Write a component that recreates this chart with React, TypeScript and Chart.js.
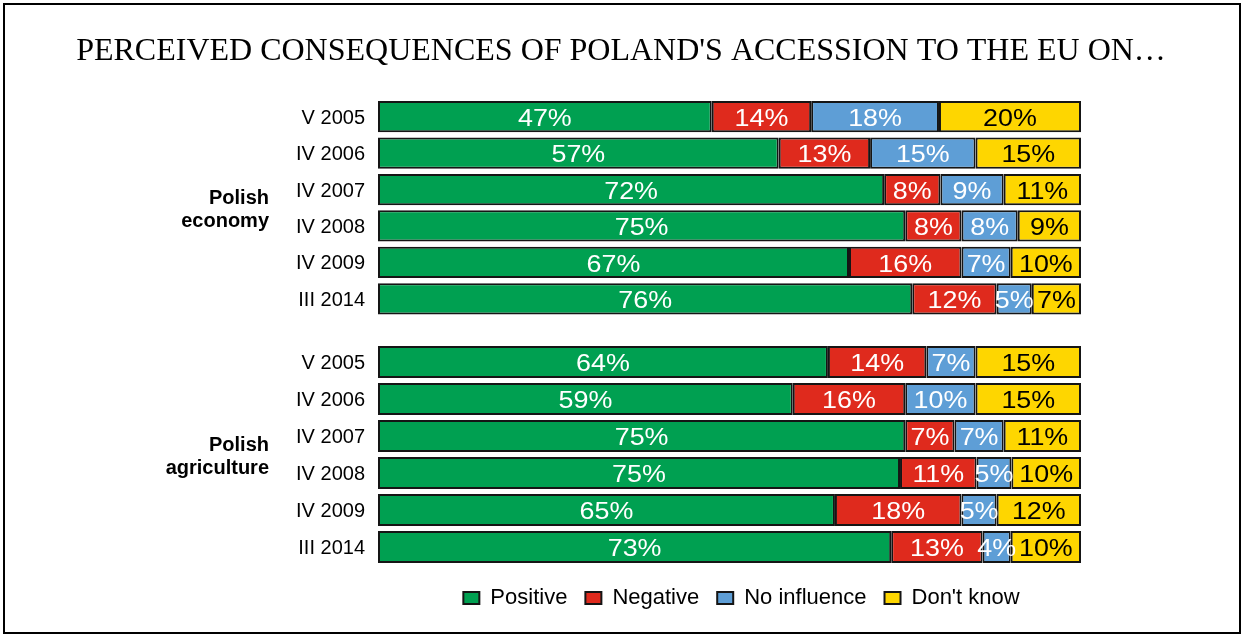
import { useEffect, useRef } from 'react';
import { Chart, registerables } from 'chart.js';

Chart.register(...registerables);

const TITLE = "PERCEIVED CONSEQUENCES OF POLAND'S ACCESSION TO THE EU ON…";
const periods = ['V 2005', 'IV 2006', 'IV 2007', 'IV 2008', 'IV 2009', 'III 2014'];
const economyLabel = ['Polish', 'economy'];
const agricultureLabel = ['Polish', 'agriculture'];
const seriesNames = ['Positive', 'Negative', 'No influence', "Don't know"];
const seriesColors = ['#00A051', '#DF2A1D', '#5E9ED6', '#FED600'];
const valueTextColors = ['#ffffff', '#ffffff', '#ffffff', '#000000'];

const economyPositive = [47, 57, 72, 75, 67, 76];
const economyNegative = [14, 13, 8, 8, 16, 12];
const economyNoInfluence = [18, 15, 9, 8, 7, 5];
const economyDontKnow = [20, 15, 11, 9, 10, 7];

const agriculturePositive = [64, 59, 75, 75, 65, 73];
const agricultureNegative = [14, 16, 7, 11, 18, 13];
const agricultureNoInfluence = [7, 10, 7, 5, 5, 4];
const agricultureDontKnow = [15, 15, 11, 10, 12, 10];

const SANS = '"Liberation Sans", Arial, Helvetica, sans-serif';
const SERIF = '"Liberation Serif", "Times New Roman", serif';

function buildDatasets(series: number[][]) {
  const totals = periods.map((_, i) => series.reduce((s, arr) => s + arr[i], 0));
  return series.map((values, si) => ({
    label: seriesNames[si],
    data: values.map((v, i) => (v / totals[i]) * 100),
    rawValues: values,
    backgroundColor: seriesColors[si],
    borderColor: '#151515',
    borderWidth: 2,
    borderSkipped: false as const,
    barPercentage: 0.86,
    categoryPercentage: 1,
  }));
}

const overlayPlugin = {
  id: 'overlay',
  afterLayout(chart: any, _args: any, opts: any) {
    if (opts.legendShift && chart.legend) {
      chart.legend.left += opts.legendShift;
      chart.legend.right += opts.legendShift;
    }
  },
  afterDatasetsDraw(chart: any, _args: any, opts: any) {
    const ctx: CanvasRenderingContext2D = chart.ctx;
    const area = chart.chartArea;
    ctx.save();
    chart.data.datasets.forEach((ds: any, di: number) => {
      const meta = chart.getDatasetMeta(di);
      meta.data.forEach((el: any, i: number) => {
        const { x, y, base } = el.getProps(['x', 'y', 'base'], true);
        const cx = (x + base) / 2;
        ctx.save();
        ctx.translate(cx, y + 2.5);
        ctx.scale(1.12, 1);
        ctx.font = `24px ${SANS}`;
        ctx.fillStyle = valueTextColors[di];
        ctx.textAlign = 'center';
        ctx.textBaseline = 'middle';
        ctx.fillText(ds.rawValues[i] + '%', 0, 0);
        ctx.restore();
      });
    });
    if (opts.group) {
      const mid = (area.top + area.bottom) / 2 + 2;
      ctx.font = `bold 20px ${SANS}`;
      ctx.fillStyle = '#000';
      ctx.textAlign = 'right';
      ctx.textBaseline = 'middle';
      const lines: string[] = opts.group;
      lines.forEach((line, li) => {
        ctx.fillText(line, 269, mid + (li - (lines.length - 1) / 2) * 23);
      });
    }
    if (opts.title) {
      ctx.font = `32px ${SERIF}`;
      ctx.fillStyle = '#000';
      ctx.textAlign = 'center';
      ctx.textBaseline = 'middle';
      ctx.fillText(opts.title, chart.width / 2, 52);
    }
    ctx.restore();
  },
};

function makeConfig(series: number[][], group: string[], isTop: boolean): any {
  return {
    type: 'bar',
    data: { labels: periods, datasets: buildDatasets(series) },
    plugins: [overlayPlugin],
    options: {
      indexAxis: 'y',
      animation: false,
      responsive: true,
      maintainAspectRatio: false,
      events: [],
      layout: {
        padding: isTop
          ? { top: 98.5, right: 161, left: 0, bottom: 4.5 }
          : { top: 18.5, right: 161, left: 0, bottom: 16 },
      },
      scales: {
        x: {
          stacked: true,
          min: 0,
          max: 100,
          display: !isTop,
          grid: { display: false, drawTicks: false },
          border: { display: false },
          ticks: { display: false },
          afterFit: (s: any) => {
            s.height = 3.5;
            s.paddingLeft = 0;
            s.paddingRight = 0;
          },
        },
        y: {
          stacked: true,
          grid: { display: false, drawTicks: false },
          border: { display: false },
          ticks: {
            color: '#000',
            padding: 13,
            labelOffset: 1.5,
            font: { family: SANS, size: 20 },
          },
          afterFit: (s: any) => {
            s.width = 378;
            s.paddingTop = 0;
            s.paddingBottom = 0;
          },
        },
      },
      plugins: {
        tooltip: { enabled: false },
        title: { display: false },
        legend: {
          display: !isTop,
          position: 'bottom',
          fullSize: false,
          labels: {
            boxWidth: 16,
            boxHeight: 12,
            padding: 18,
            color: '#000',
            font: { family: SANS, size: 22 },
          },
        },
        overlay: { group, title: isTop ? TITLE : null, legendShift: isTop ? 0 : 12 },
      },
    },
  };
}

export default function App() {
  const topRef = useRef<HTMLCanvasElement>(null);
  const bottomRef = useRef<HTMLCanvasElement>(null);

  useEffect(() => {
    document.body.style.margin = '0';
    const c1 = new Chart(
      topRef.current!,
      makeConfig([economyPositive, economyNegative, economyNoInfluence, economyDontKnow], economyLabel, true)
    );
    const c2 = new Chart(
      bottomRef.current!,
      makeConfig(
        [agriculturePositive, agricultureNegative, agricultureNoInfluence, agricultureDontKnow],
        agricultureLabel,
        false
      )
    );
    return () => {
      c1.destroy();
      c2.destroy();
    };
  }, []);

  return (
    <div style={{ position: 'relative', width: 1242, height: 635, background: '#fff', overflow: 'hidden' }}>
      <div style={{ position: 'absolute', left: 0, top: 0, width: 1242, height: 325 }}>
        <canvas ref={topRef} />
      </div>
      <div style={{ position: 'absolute', left: 0, top: 325, width: 1242, height: 310 }}>
        <canvas ref={bottomRef} />
      </div>
      <div
        style={{
          position: 'absolute',
          left: 3,
          top: 3,
          width: 1238,
          height: 631,
          border: '2px solid #000',
          boxSizing: 'border-box',
          pointerEvents: 'none',
        }}
      />
    </div>
  );
}
